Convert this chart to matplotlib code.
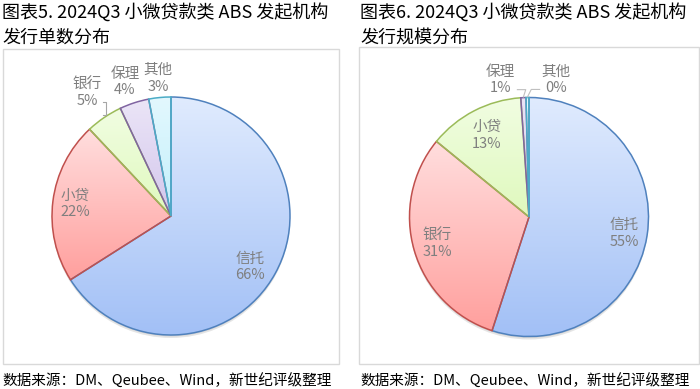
import numpy as np
import matplotlib
matplotlib.use("Agg")
import matplotlib.pyplot as plt
from matplotlib.patches import Rectangle
from matplotlib.colors import LinearSegmentedColormap

plt.rcParams['font.family'] = ['Noto Sans CJK SC', 'DejaVu Sans']

# ---- data ----
title_left = "图表5. 2024Q3 小微贷款类 ABS 发起机构\n发行单数分布"
title_right = "图表6. 2024Q3 小微贷款类 ABS 发起机构\n发行规模分布"
source_text = "数据来源：DM、Qeubee、Wind，新世纪评级整理"

left_labels = ["信托", "小贷", "银行", "保理", "其他"]
left_values = [66, 22, 5, 4, 3]
right_labels = ["信托", "银行", "小贷", "保理", "其他"]
right_values = [55.0, 30.9, 13.0, 0.7, 0.4]

# colour style by slice position: (top colour, bottom colour, edge colour)
styles = [
    ("#e0ebfe", "#a2c0f6", "#4f81bd"),
    ("#ffdede", "#ff9f9d", "#c0504d"),
    ("#f1fde2", "#dff9bd", "#9bbb59"),
    ("#ebe5f7", "#d3c6ec", "#8064a2"),
    ("#e3f8fe", "#c2effb", "#4bacc6"),
]
# per-label placement (radius, angular shift in deg)
left_place = [(0.79, 4), (0.81, 0), (1.25, 0), (1.19, -1), (1.16, 0)]
right_place = [(0.81, 1), (0.80, 0), (0.77, 0), (1.17, -9), (1.17, 12)]
# leader lines flags
left_leader = [False, False, True, False, False]
right_leader = [False, False, False, True, True]

W, H = 700, 389
fig = plt.figure(figsize=(W / 100, H / 100), dpi=100)


def px_rect(x0, y0, x1, y1):
    fig.add_artist(Rectangle((x0 / W, 1 - y1 / H), (x1 - x0) / W, (y1 - y0) / H,
                             transform=fig.transFigure, fill=False,
                             edgecolor="#d9d9d9", lw=1.0))


px_rect(2.5, 49, 339, 363.5)
px_rect(359, 47, 698.5, 363.5)

LIM = 1.3


def draw_pie(cx, cy, R, labels, values, place, leaders):
    size = 2 * LIM * R
    ax = fig.add_axes([(cx - size / 2) / W, 1 - (cy + size / 2) / H, size / W, size / H])
    ax.set_axis_off()
    ax.add_patch(plt.Circle((0.0, -0.025), 1.0, color="#000000", alpha=0.10, zorder=0, lw=0))
    ax.add_patch(plt.Circle((0.0, -0.012), 1.0, color="#000000", alpha=0.08, zorder=0, lw=0))
    wedges, _ = ax.pie(values, startangle=90, counterclock=False, radius=1.0,
                       wedgeprops=dict(facecolor="none", linewidth=1.1),
                       normalize=True)
    total = float(sum(values))
    cum = 0.0
    for i, (w, lab, v, (r, dang), lead) in enumerate(zip(wedges, labels, values, place, leaders)):
        top, bot, edge = styles[i]
        w.set_edgecolor(edge)
        w.set_zorder(3)
        ext = w.get_path().get_extents()
        cmap = LinearSegmentedColormap.from_list("g", [bot, top])
        grad = np.linspace(0, 1, 256).reshape(-1, 1)
        im = ax.imshow(grad, cmap=cmap, origin="lower", aspect="auto",
                       extent=(ext.x0, ext.x1, ext.y0, ext.y1), zorder=2,
                       interpolation="bilinear")
        im.set_clip_path(w)
        frac_mid = (cum + v / 2) / total
        cum += v
        theta = np.deg2rad(frac_mid * 360 + dang)
        x = r * np.sin(theta)
        y = r * np.cos(theta)
        pct = f"{round(v / total * 100):.0f}%"
        ax.text(x, y, f"{lab}\n{pct}", ha="center", va="center", fontsize=10.5,
                color="#7f7f7f", linespacing=1.25, zorder=5)
        if lead:
            emid = np.deg2rad(frac_mid * 360)
            ex, ey = 1.0 * np.sin(emid), 1.0 * np.cos(emid)
            if abs(dang) < 3:
                lx = x + 0.16
                ly = y - 0.08
                ax.plot([lx - 0.03, lx, lx, ex - 0.01], [ly, ly, ey + 0.02, ey + 0.02],
                        color="#a6a6a6", lw=0.8, zorder=4)
            else:
                side = np.sign(x)
                lx = x - side * 0.14
                ly = y - 0.08
                ax.plot([lx, lx - side * 0.07, ex], [ly, ly, ey + 0.005],
                        color="#bfbfbf", lw=0.8, zorder=4)
    ax.set_xlim(-LIM, LIM)
    ax.set_ylim(-LIM, LIM)
    ax.set_aspect("equal")
    return ax


draw_pie(171, 216, 119, left_labels, left_values, left_place, left_leader)
draw_pie(529, 217, 119.5, right_labels, right_values, right_place, right_leader)

# titles
fig.text(2 / W, 1 - 3 / H, title_left, ha="left", va="top", fontsize=13,
         color="#000000", linespacing=1.45)
fig.text(360 / W, 1 - 3 / H, title_right, ha="left", va="top", fontsize=13,
         color="#000000", linespacing=1.45)
# sources
fig.text(2 / W, 1 - 381 / H, source_text, ha="left", va="center", fontsize=10.5, color="#000000")
fig.text(360 / W, 1 - 381 / H, source_text, ha="left", va="center", fontsize=10.5, color="#000000")

fig.savefig("out.png", dpi=100, facecolor="white")
